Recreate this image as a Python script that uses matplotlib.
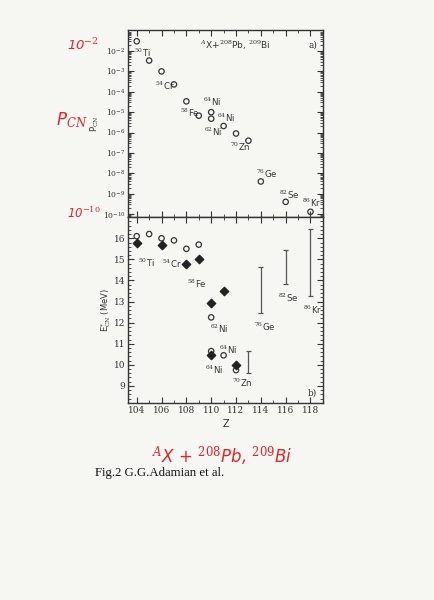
import numpy as np
import matplotlib.pyplot as plt
from matplotlib.ticker import LogLocator, MultipleLocator, NullFormatter

# --- datos panel a) : P_CN frente a Z
z_pcn = [104, 105, 106, 107, 108, 109, 110, 110, 111, 112, 113, 114, 116, 118]
pcn = [3.0e-2, 3.4e-3, 1.0e-3, 2.3e-4, 3.4e-5, 6.7e-6, 1.0e-5, 4.8e-6,
       2.1e-6, 9.0e-7, 4.0e-7, 4.0e-9, 4.0e-10, 1.3e-10]

# --- datos panel b) : E*_CN frente a Z
z_open = [104, 105, 106, 107, 108, 109, 110, 110, 111, 112]
e_open = [16.1, 16.2, 16.0, 15.9, 15.5, 15.7, 12.25, 10.65, 10.45, 9.75]
z_full = [104, 106, 108, 109, 110, 111, 110, 112]
e_full = [15.8, 15.7, 14.8, 15.0, 12.95, 13.5, 10.45, 10.0]
z_range = [113, 114, 116, 118]
e_low = [9.6, 12.45, 13.85, 13.25]
e_high = [10.65, 14.65, 15.45, 16.45]

# etiquetas de los proyectiles (texto, Z, valor)
labels_a = [('$^{50}$Ti', 103.8, 8e-3), ('$^{54}$Cr', 105.45, 1.9e-4),
            ('$^{58}$Fe', 107.5, 9e-6), ('$^{64}$Ni', 109.3, 3.2e-5),
            ('$^{64}$Ni', 110.5, 5.2e-6), ('$^{62}$Ni', 109.4, 1.1e-6),
            ('$^{70}$Zn', 111.5, 2e-7), ('$^{76}$Ge', 113.6, 9.3e-9),
            ('$^{82}$Se', 115.5, 8.7e-10), ('$^{86}$Kr', 117.3, 3.5e-10)]
labels_b = [('$^{50}$Ti', 104.1, 14.85), ('$^{54}$Cr', 106.05, 14.8),
            ('$^{58}$Fe', 108.05, 13.85), ('$^{62}$Ni', 109.9, 11.7),
            ('$^{64}$Ni', 110.65, 10.7), ('$^{64}$Ni', 109.5, 9.75),
            ('$^{70}$Zn', 111.7, 9.15), ('$^{76}$Ge', 113.45, 11.8),
            ('$^{82}$Se', 115.4, 13.2), ('$^{86}$Kr', 117.4, 12.6)]

paper = '#f6f6f3'
red = '#e0262c'
ink = '#333333'
plt.rcParams['font.family'] = 'DejaVu Sans'
plt.rcParams['mathtext.fontset'] = 'custom'
plt.rcParams['mathtext.rm'] = 'DejaVu Serif'
plt.rcParams['mathtext.it'] = 'DejaVu Serif:italic'

fig = plt.figure(figsize=(4.34, 6.0), dpi=100, facecolor=paper)
ax1 = fig.add_axes([0.295, 0.638, 0.449, 0.312])
ax2 = fig.add_axes([0.295, 0.328, 0.449, 0.310])

# panel a)
ax1.scatter(z_pcn, pcn, s=15, facecolors='none', edgecolors=ink, linewidths=0.9)
ax1.set_yscale('log')
ax1.set_ylim(10**-10.15, 10**-0.97)
ax1.yaxis.set_minor_locator(LogLocator(base=10, subs=np.arange(2, 10), numticks=20))
ax1.yaxis.set_minor_formatter(NullFormatter())
ax1.set_yticks([10.0**k for k in range(-10, -1)])
ax1.set_ylabel('P$_{\\rm CN}$', fontsize=6, color=ink, labelpad=1)
ax1.tick_params(axis='x', labelbottom=False)
for t, x, y in labels_a:
    ax1.text(x, y, t, fontsize=6.2, color=ink, va='center')
ax1.text(109.1, 2e-2, '$^{A}$X+$^{208}$Pb, $^{209}$Bi', fontsize=6.5, color=ink, va='center')
ax1.text(117.8, 2e-2, 'a)', fontsize=6.5, family='DejaVu Serif', color=ink, va='center')

# panel b)
ax2.scatter(z_open, e_open, s=15, facecolors='none', edgecolors=ink, linewidths=0.9, zorder=3)
ax2.scatter(z_full, e_full, s=18, marker='D', color='#222222', zorder=3)
ax2.vlines(z_range, e_low, e_high, color='#555555', lw=0.9)
ax2.hlines(e_low + e_high, [z - 0.2 for z in z_range * 2], [z + 0.2 for z in z_range * 2],
           color='#555555', lw=0.9)
ax2.set_ylim(8.18, 17.0)
ax2.yaxis.set_minor_locator(MultipleLocator(0.2))
ax2.set_yticks(range(9, 17))
ax2.set_ylabel('E$^{*}_{\\rm CN}$ (MeV)', fontsize=6, color=ink, labelpad=1)
ax2.set_xlabel('Z', fontsize=7, color=ink, labelpad=3)
for t, x, y in labels_b:
    ax2.text(x, y, t, fontsize=6.2, color=ink, va='center')
ax2.text(117.8, 8.65, 'b)', fontsize=6.5, family='DejaVu Serif', color=ink, va='center')

for ax in (ax1, ax2):
    ax.set_facecolor(paper)
    ax.set_xlim(103.3, 119.0)
    ax.xaxis.set_major_locator(MultipleLocator(2))
    ax.xaxis.set_minor_locator(MultipleLocator(1))
    ax.tick_params(which='both', direction='in', top=True, right=True, colors=ink,
                   labelsize=6.5, pad=2)
    ax.tick_params(which='major', length=4)
    ax.tick_params(which='minor', length=2)
    for lab in ax.get_xticklabels() + ax.get_yticklabels():
        lab.set_family('DejaVu Serif')
    for sp in ax.spines.values():
        sp.set_color(ink)
        sp.set_linewidth(1.0)
ax1.tick_params(axis='y', labelsize=5.5)

# anotaciones a mano en rojo
fig.text(0.155, 0.925, '10$^{-2}$', color=red, fontsize=9.5, style='italic', va='center', ha='left')
fig.text(0.13, 0.80, 'P$_{\\it CN}$', color=red, fontsize=12, style='italic', va='center', ha='left')
fig.text(0.155, 0.645, '10$^{-10}$', color=red, fontsize=8.5, style='italic', va='center', ha='left')
fig.text(0.35, 0.24, '$^{A}$X + $^{208}$Pb, $^{209}$Bi', color=red, fontsize=12,
         style='italic', va='center', ha='left')
fig.text(0.218, 0.212, 'Fig.2 G.G.Adamian et al.', color='#111111', fontsize=9.2,
         family='Liberation Serif', va='center', ha='left')

fig.savefig('out.png', dpi=100, facecolor=paper)
